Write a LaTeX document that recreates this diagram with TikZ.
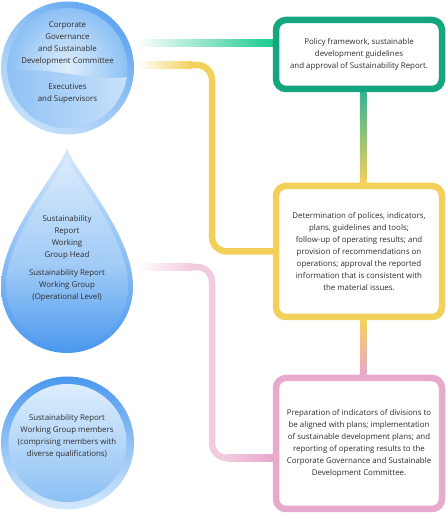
\documentclass[tikz,border=0pt]{standalone}
\usepackage{fontspec}
\setmainfont{Open Sans}
\usetikzlibrary{positioning,backgrounds,shadings}

\definecolor{rimblue}{HTML}{4A98EE}
\definecolor{paleblue}{HTML}{D6E9FC}
\definecolor{midblue}{HTML}{8CC0F4}
\definecolor{govgreen}{HTML}{13A67F}
\definecolor{linegreen}{HTML}{1DCB8C}
\definecolor{wgyellow}{HTML}{F2D15B}
\definecolor{wgpink}{HTML}{E7A9CC}
\definecolor{softpink}{HTML}{F2CADF}
\definecolor{textgray}{HTML}{2E2E2E}

\begin{document}
\begin{tikzpicture}[x=1pt, y=1pt,
  every node/.style={font=\fontsize{7.9}{12}\selectfont, align=center, text=textgray},
  stepbox/.style={draw=#1, line width=6.5pt, rounded corners=10pt, fill=white,
    minimum width=166pt, inner sep=0pt},
  link/.style={draw=#1, line width=6.5pt, rounded corners=15pt}]
  \useasboundingbox (0,0) rectangle (446,514);

  % Governance circle
  \shade[upper right=rimblue, upper left=midblue, lower right=midblue!70!paleblue, lower left=paleblue]
    (67.5,446) circle[radius=66.5];
  \shade[inner color=paleblue!75!white, outer color=midblue] (67.5,446) circle[radius=60];
  \begin{scope}
    \clip (67.5,446) circle[radius=60];
    \shade[left color=midblue, right color=paleblue!85!midblue]
      (0,440) .. controls (45,452) and (85,430) .. (135,438) -- (135,380) -- (0,380) -- cycle;
  \end{scope}

  % Working group drop
  \shade[top color=paleblue, bottom color=rimblue]
    (67,366) .. controls (60,342) and (1,282) .. (1,227)
    arc[start angle=180, end angle=360, radius=66]
    .. controls (133,282) and (74,342) .. (67,366) -- cycle;
  \begin{scope}
    \clip (67,358) .. controls (61,337) and (6,280) .. (6,227)
      arc[start angle=180, end angle=360, radius=61]
      .. controls (128,280) and (73,337) .. (67,358) -- cycle;
    \shade[top color=paleblue!70!white, bottom color=midblue!80!paleblue] (0,370) rectangle (135,240);
    \shade[top color=midblue!55!paleblue, bottom color=rimblue]
      (0,247) .. controls (40,262) and (90,244) .. (135,256) -- (135,160) -- (0,160) -- cycle;
  \end{scope}

  % Members circle
  \shade[top color=rimblue, bottom color=paleblue] (67.5,71) circle[radius=66.5];
  \shade[top color=paleblue!80!white, bottom color=midblue] (67.5,71) circle[radius=59];

  % Texts of the left column
  \node (board) at (67.5,470) {Corporate\\Governance\\and Sustainable\\Development Committee};
  \node (execs) at (67.5,420) {Executives\\and Supervisors};
  \node (head) at (67,277) {Sustainability\\Report\\Working\\Group Head};
  \node (wg) at (67,229) {Sustainability Report\\Working Group\\(Operational Level)};
  \node (members) at (67,77.5) {Sustainability Report\\Working Group members\\(comprising members with\\diverse qualifications)};

  % Duty boxes
  \node[stepbox=govgreen, minimum height=69pt] (policy) at (359,459.5)
    {Policy framework, sustainable\\development guidelines\\and approval of Sustainability Report.};
  \node[stepbox=wgyellow, minimum height=131pt] (duties) at (359,262.5)
    {Determination of polices, indicators,\\plans, guidelines and tools;\\follow-up of operating results; and\\provision of recommendations on\\operations; approval the reported\\information that is consistent with\\the material issues.};
  \node[stepbox=wgpink, minimum height=131pt] (tasks) at (359,70.5)
    {Preparation of indicators of divisions to\\be aligned with plans; implementation\\of sustainable development plans; and\\reporting of operating results to the\\Corporate Governance and Sustainable\\Development Committee.};

  \coordinate (boardout) at (137,471);
  \coordinate (execout) at (137,449);
  \coordinate (wgout) at (137,247);
  \coordinate (bend) at (212,0);
  \coordinate (tasksin) at ([yshift=-14.5pt]tasks.west);

  % Connectors
  \begin{scope}[on background layer]
    \shade[left color=white, middle color=linegreen!55, right color=linegreen]
      ([yshift=-3.25pt]boardout) rectangle ([yshift=3.25pt]boardout -| policy.west);
    \draw[link=wgyellow] (execout) -- (execout -| bend) -- (bend |- duties.west) -- (duties.west);
    \shade[left color=white, right color=wgyellow]
      ([yshift=-3.25pt]execout) rectangle ([xshift=55pt, yshift=3.25pt]execout);
    \draw[link=softpink] (wgout) -- (wgout -| bend) -- (bend |- tasksin) -- (tasksin);
    \shade[left color=white, right color=softpink]
      ([yshift=-3.25pt]wgout) rectangle ([xshift=55pt, yshift=3.25pt]wgout);
    \shade[left color=softpink, right color=wgpink]
      ([xshift=15pt, yshift=-3.25pt]bend |- tasksin) rectangle ([yshift=3.25pt]tasksin);
    \shade[top color=govgreen!85, bottom color=wgyellow]
      ([xshift=0.75pt]policy.south) rectangle ([xshift=7.25pt]duties.north);
    \shade[top color=wgyellow, bottom color=wgpink]
      ([xshift=0.75pt]duties.south) rectangle ([xshift=7.25pt]tasks.north);
  \end{scope}
\end{tikzpicture}
\end{document}
